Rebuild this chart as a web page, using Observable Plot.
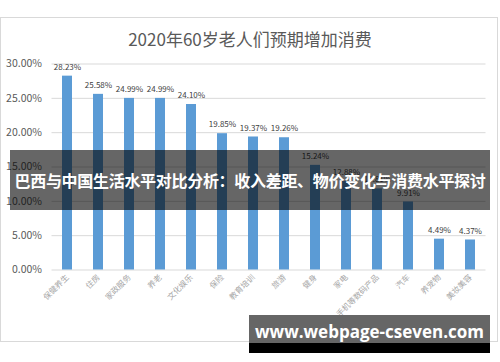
<!DOCTYPE html>
<html><head><meta charset="utf-8">
<script src="https://cdn.jsdelivr.net/npm/d3@7"></script>
<script src="https://cdn.jsdelivr.net/npm/@observablehq/plot@0.6"></script>
<style>
body{margin:0;background:#fff;font-family:"Noto Sans CJK SC","Noto Sans",sans-serif;}
#wrap{position:relative;width:500px;height:362px;overflow:hidden;}
#frame{position:absolute;left:0;top:17px;width:498px;height:325px;border:1px solid #d9d9d9;box-sizing:border-box;pointer-events:none;}
#title{position:absolute;left:0;top:28px;width:500px;text-align:center;font-size:17px;color:#595959;line-height:22px;}
#band{position:absolute;left:10px;top:150px;width:480px;height:60px;background:rgba(0,0,0,0.6);color:#fff;font-weight:bold;font-size:16px;line-height:60px;text-align:center;white-space:nowrap;letter-spacing:-0.3px;}
#url{position:absolute;left:249px;top:315px;width:241px;height:38px;background:linear-gradient(#666 0,#666 28px,#000 28px,#000 38px);color:#fff;font-weight:bold;font-size:17px;line-height:28px;text-align:center;white-space:nowrap;font-family:"Open Sans","DejaVu Sans",sans-serif;padding-top:3px;box-sizing:border-box;}
</style></head>
<body><div id="wrap"><div id="chart"></div><div id="frame"></div><div id="title">2020年60岁老人们预期增加消费</div><div id="band">巴西与中国生活水平对比分析：收入差距、物价变化与消费水平探讨</div><div id="url">www.webpage-cseven.com</div></div>
<script>
const categories = ["保健养生","住房","家政服务","养老","文化娱乐","保险","教育培训","旅游","健身","家电","手机等数码产品","汽车","养宠物","美妆美容"];
const values = [28.23,25.58,24.99,24.99,24.10,19.85,19.37,19.26,15.24,12.88,11.81,9.91,4.49,4.37];
const yTicks = [0,5,10,15,20,25,30];
const data = categories.map((c,i)=>({c, v: values[i]}));
const chart = Plot.plot({
  width: 500, height: 362,
  marginLeft: 51.5, marginRight: 14.5, marginTop: 63.5, marginBottom: 92.5,
  style: {fontFamily: '"Noto Sans CJK SC","Noto Sans",sans-serif', background: "transparent"},
  x: {domain: categories, paddingInner: 0.68, paddingOuter: 0.34, label: null},
  y: {domain: [0,30], label: null},
  marks: [
    Plot.gridY(yTicks, {stroke: "#d9d9d9", strokeOpacity: 1}),
    Plot.axisY(yTicks, {tickSize: 0, tickPadding: 10, tickFormat: d => d.toFixed(2) + "%", fontSize: 10.5, fill: "#595959", label: null}),
    Plot.axisX({tickSize: 0, tickRotate: -45, tickPadding: 6, fontSize: 8, fill: "#a6a6a6", label: null}),
    Plot.barY(data, {x: "c", y: "v", fill: "#5b9bd5"}),
    Plot.text(data, {x: "c", y: "v", text: d => d.v.toFixed(2) + "%", dy: -9, fontSize: 8, fill: "#404040"})
  ]
});
document.getElementById("chart").appendChild(chart);
</script></body></html>
